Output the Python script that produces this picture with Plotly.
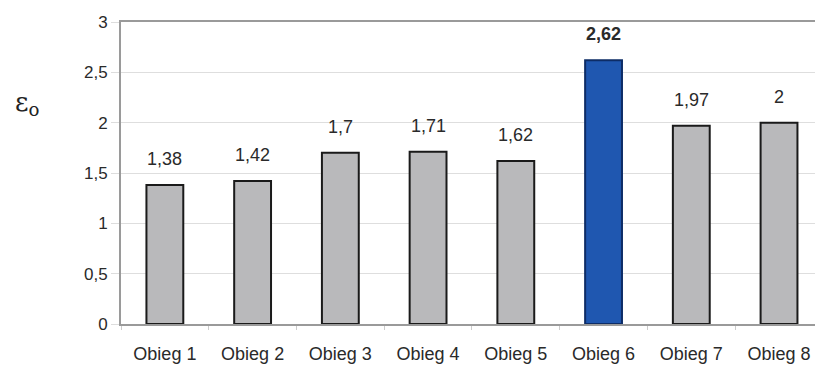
import plotly.graph_objects as go

categories = ["Obieg 1", "Obieg 2", "Obieg 3", "Obieg 4", "Obieg 5", "Obieg 6", "Obieg 7", "Obieg 8"]
values = [1.38, 1.42, 1.70, 1.71, 1.62, 2.62, 1.97, 2.00]
labels = ["1,38", "1,42", "1,7", "1,71", "1,62", "<b>2,62</b>", "1,97", "2"]
highlight = "Obieg 6"

colors = ["#1f57b0" if c == highlight else "#b9b9bb" for c in categories]
line_colors = ["#0d2c66" if c == highlight else "#1a1a1a" for c in categories]

fig = go.Figure()
fig.add_trace(go.Bar(
    x=categories, y=values,
    marker=dict(color=colors, line=dict(color=line_colors, width=2)),
    width=0.42,
    hoverinfo="skip",
))

for c, v, t in zip(categories, values, labels):
    fig.add_annotation(x=c, y=v, text=t, showarrow=False, yshift=26,
                       font=dict(size=18, color="#2a2a2a", family="Liberation Sans"))

fig.add_annotation(xref="paper", yref="paper", x=-0.155, y=0.79,
                   text="ε<sub>o</sub>", showarrow=False,
                   font=dict(size=26, color="#222222", family="DejaVu Serif"))

fig.update_layout(
    width=815, height=367,
    margin=dict(l=121, r=0, t=22, b=43),
    plot_bgcolor="white", paper_bgcolor="white",
    separators=", ",
    showlegend=False,
)
fig.update_xaxes(
    range=[-0.5, 7.41],
    showline=True, linecolor="#9a9a9a", linewidth=2,
    ticks="outside", tickson="boundaries", ticklen=4, tickcolor="#cccccc",
    ticklabelstandoff=12,
    tickfont=dict(size=18, color="#2a2a2a", family="Liberation Sans"),
    mirror=True,
)
fig.update_yaxes(
    range=[0, 3], dtick=0.5,
    showgrid=True, gridcolor="#dedede", gridwidth=1,
    showline=True, linecolor="#9a9a9a", linewidth=2,
    ticks="outside", ticklen=8, tickcolor="#dddddd",
    tickfont=dict(size=17, color="#2a2a2a", family="Liberation Sans"),
    zeroline=False, mirror=False,
)

fig.write_html("out.html")
